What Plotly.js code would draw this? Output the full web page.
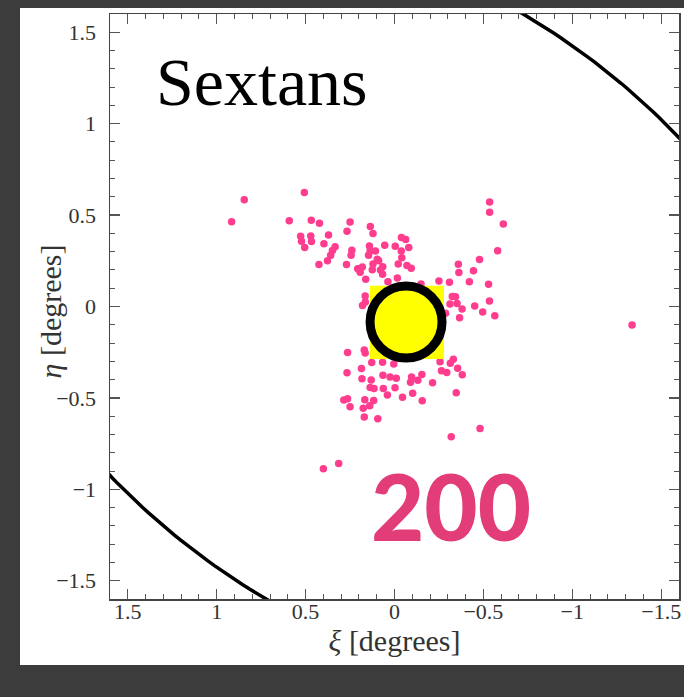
<!DOCTYPE html>
<html>
<head>
<meta charset="utf-8">
<script src="https://cdn.plot.ly/plotly-3.0.1.min.js"></script>
<style>
  html, body { margin: 0; padding: 0; width: 684px; height: 697px; overflow: hidden; background: #3c3c3c; }
  #chart { position: absolute; left: 20px; top: 8px; width: 664px; height: 657px; }
</style>
</head>
<body>
<div id="chart"></div>
<script>
// Member stars of Sextans, tangent-plane coordinates (degrees)
const xiDeg = [
  0.845, 0.916, 0.507, 0.592, 0.468, 0.422, 0.250, 0.267, 0.136, 0.121,
  -0.535, -0.535, -0.612, 0.528, 0.523, 0.471, 0.467, 0.505, 0.371, 0.397,
  0.334, 0.349, 0.359, 0.377, 0.425, 0.240, 0.244, 0.270, 0.141, 0.137,
  0.107, 0.146, 0.055, -0.004, -0.039, -0.063, -0.080, -0.038, -0.041, 0.097,
  0.089, 0.121, 0.066, -0.021, -0.070, -0.094, -0.580, -0.478, -0.359, -0.362,
  -0.444, 0.207, 0.181, 0.193, 0.162, 0.125, 0.079, 0.067, 0.037, -0.016,
  -0.250, -0.309, -0.421, -0.529, 0.165, 0.180, 0.164, -0.325, -0.343, -0.312,
  -0.352, -0.380, -0.366, -0.451, -0.534, -0.496, -0.564, -0.287, 0.264, 0.170,
  0.165, 0.128, 0.067, 0.004, -0.256, -0.314, -0.331, -0.355, -0.381, -0.264,
  -0.294, 0.267, 0.186, 0.183, 0.131, 0.065, 0.025, -0.010, -0.096, -0.090,
  -0.131, -0.154, -0.214, 0.137, 0.115, 0.063, -0.003, 0.040, -0.045, -0.102,
  -0.156, -0.347, 0.285, 0.264, 0.250, 0.167, 0.117, 0.176, 0.139, 0.170,
  0.094, -0.481, -0.319, 0.400, 0.314, -1.336, -0.149
];
const etaDeg = [
  0.584, 0.463, 0.624, 0.469, 0.472, 0.455, 0.462, 0.411, 0.437, 0.400,
  0.571, 0.515, 0.451, 0.384, 0.357, 0.386, 0.355, 0.323, 0.391, 0.343,
  0.327, 0.307, 0.281, 0.250, 0.230, 0.308, 0.280, 0.230, 0.331, 0.303,
  0.303, 0.281, 0.335, 0.330, 0.377, 0.367, 0.323, 0.304, 0.266, 0.258,
  0.250, 0.232, 0.217, 0.233, 0.224, 0.209, 0.305, 0.257, 0.231, 0.186,
  0.195, 0.206, 0.216, 0.187, 0.149, 0.201, 0.199, 0.176, 0.136, 0.156,
  0.140, 0.132, 0.136, 0.122, 0.057, 0.005, 0.025, 0.055, 0.054, 0.014,
  0.016, -0.013, -0.061, 0.003, 0.030, -0.030, -0.050, -0.037, -0.252, -0.238,
  -0.255, -0.307, -0.305, -0.314, -0.302, -0.310, -0.289, -0.338, -0.374, -0.352,
  -0.361, -0.362, -0.339, -0.395, -0.402, -0.376, -0.385, -0.393, -0.386, -0.414,
  -0.403, -0.372, -0.417, -0.443, -0.448, -0.448, -0.445, -0.484, -0.496, -0.474,
  -0.515, -0.472, -0.512, -0.504, -0.548, -0.510, -0.514, -0.556, -0.543, -0.604,
  -0.614, -0.667, -0.713, -0.888, -0.859, -0.101, 0.123
];

// Tidal ellipse: semi-major axis (deg), ellipticity, position angle (deg, N through E)
const tidalA = 2.7;
const tidalEll = 0.355;
const tidalPA = 56;

// Highlighted central region (degrees)
const boxXi = [0.138, -0.278];
const boxEta = [-0.287, 0.114];
const ringCenter = [-0.065, -0.085];
const ringRadius = [0.2025, 0.197];

const galaxyName = 'Sextans';
const starCount = '200';
const xLabel = '<i>ξ</i> [degrees]';
const yLabel = '<i>η</i> [degrees]';

// Sample the tidal ellipse outline
const ellXi = [], ellEta = [];
const tidalB = tidalA * (1 - tidalEll);
const pa = tidalPA * Math.PI / 180;
for (let i = 0; i <= 360; i++) {
  const t = i * Math.PI / 180;
  const u = tidalA * Math.cos(t), v = tidalB * Math.sin(t);
  ellXi.push(u * Math.sin(pa) - v * Math.cos(pa));
  ellEta.push(u * Math.cos(pa) + v * Math.sin(pa));
}

const serif = 'Liberation Serif, DejaVu Serif, serif';

const traces = [
  {
    x: ellXi, y: ellEta, type: 'scatter', mode: 'lines',
    line: { color: '#000', width: 3.5 }, hoverinfo: 'skip', showlegend: false
  },
  {
    x: xiDeg, y: etaDeg, type: 'scatter', mode: 'markers',
    marker: { color: '#ff3d8e', size: 7.5, line: { width: 0 } },
    showlegend: false
  }
];

function axisCommon() {
  return {
    dtick: 0.5, tick0: 0,
    ticks: 'inside', ticklen: 10, tickwidth: 1.2, tickcolor: '#555',
    minor: { dtick: 0.1, ticks: 'inside', ticklen: 5, tickwidth: 1, tickcolor: '#555' },
    showline: true, linecolor: '#444', linewidth: 1.5, mirror: 'ticks',
    showgrid: false, zeroline: false,
    tickfont: { family: serif, size: 22, color: '#333' },
    fixedrange: true
  };
}

const layout = {
  width: 664, height: 657,
  margin: { l: 90, r: 5, t: 6, b: 66 },
  paper_bgcolor: '#ffffff', plot_bgcolor: '#ffffff',
  showlegend: false,
  xaxis: Object.assign(axisCommon(), {
    range: [1.6, -1.6],
    ticklabelstandoff: -8,
    title: { text: xLabel, font: { family: serif, size: 30, color: '#333' }, standoff: 2 }
  }),
  yaxis: Object.assign(axisCommon(), {
    range: [-1.6, 1.6],
    ticklabelstandoff: 8
  }),
  shapes: [
    {
      type: 'rect', xref: 'x', yref: 'y',
      x0: boxXi[0], x1: boxXi[1], y0: boxEta[0], y1: boxEta[1],
      fillcolor: '#ffff00', line: { width: 0 }, layer: 'above'
    },
    {
      type: 'circle', xref: 'x', yref: 'y',
      x0: ringCenter[0] + ringRadius[0], x1: ringCenter[0] - ringRadius[0],
      y0: ringCenter[1] - ringRadius[1], y1: ringCenter[1] + ringRadius[1],
      fillcolor: '#ffff00', line: { color: '#000', width: 9 }, layer: 'above'
    }
  ],
  annotations: [
    {
      // vertical axis label, set beside the tick labels
      text: yLabel, xref: 'paper', yref: 'paper', x: 0, y: 0.5,
      xshift: -60, yshift: -5, textangle: -90,
      xanchor: 'center', yanchor: 'middle', showarrow: false,
      font: { family: serif, size: 30, color: '#333' }
    },
    {
      text: galaxyName, xref: 'x', yref: 'y', x: 1.35, y: 1.23,
      xanchor: 'left', yanchor: 'middle', showarrow: false,
      font: { family: serif, size: 68, color: '#000' }
    },
    {
      text: starCount, xref: 'x', yref: 'y', x: -0.315, y: -1.09,
      xanchor: 'center', yanchor: 'middle', showarrow: false,
      font: { family: 'Lato, Roboto, sans-serif', size: 92, weight: 900, color: '#e33d79' }
    }
  ]
};

Plotly.newPlot('chart', traces, layout, { displayModeBar: false, staticPlot: true });
</script>
</body>
</html>
